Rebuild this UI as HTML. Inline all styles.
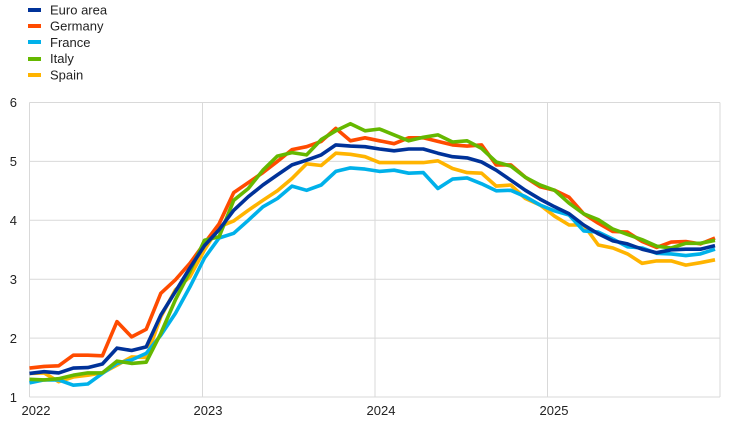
<!DOCTYPE html>
<html><head><meta charset="utf-8"><style>
body{margin:0;background:#fff;width:744px;height:422px;overflow:hidden}
svg{display:block;font-family:"Liberation Sans",sans-serif}
</style></head><body>
<svg width="744" height="422" viewBox="0 0 744 422" id="s">
<g stroke="#d9d9d9" stroke-width="1" fill="none">
<line x1="29.5" y1="102.5" x2="720" y2="102.5"/>
<line x1="29.5" y1="161.4" x2="720" y2="161.4"/>
<line x1="29.5" y1="220.3" x2="720" y2="220.3"/>
<line x1="29.5" y1="279.2" x2="720" y2="279.2"/>
<line x1="29.5" y1="338.1" x2="720" y2="338.1"/>
<line x1="29.5" y1="397" x2="720" y2="397"/>
<line x1="29.5" y1="102.5" x2="29.5" y2="397"/>
<line x1="202.5" y1="102.5" x2="202.5" y2="397"/>
<line x1="375" y1="102.5" x2="375" y2="397"/>
<line x1="547.5" y1="102.5" x2="547.5" y2="397"/>
<line x1="720" y1="102.5" x2="720" y2="397"/>
</g>
<g font-size="13" fill="#222" text-anchor="end">
<text x="17" y="107">6</text><text x="17" y="166">5</text><text x="17" y="225">4</text>
<text x="17" y="284">3</text><text x="17" y="343">2</text><text x="17" y="402">1</text>
</g>
<g font-size="13" fill="#222" text-anchor="middle">
<text x="36" y="415">2022</text><text x="208" y="415">2023</text><text x="381" y="415">2024</text><text x="554" y="415">2025</text>
</g>
<g font-size="13" fill="#222">
<rect x="28" y="8" width="13" height="4" fill="#003299"/><text x="50" y="14.5">Euro area</text>
<rect x="28" y="24" width="13" height="4" fill="#ff4b00"/><text x="50" y="30.5">Germany</text>
<rect x="28" y="40" width="13" height="4" fill="#00b1ea"/><text x="50" y="47">France</text>
<rect x="28" y="57" width="13" height="4" fill="#65b800"/><text x="50" y="63">Italy</text>
<rect x="28" y="73" width="13" height="4" fill="#ffb400"/><text x="50" y="79.5">Spain</text>
</g>
<g id="lines" fill="none" stroke-width="3.6" stroke-linejoin="round"></g>
</svg>
<script>
var D=[
["#ffb400",[1.40,1.41,1.26,1.34,1.37,1.41,1.54,1.68,1.67,2.36,2.82,3.04,3.50,3.89,3.99,4.17,4.34,4.50,4.71,4.96,4.93,5.14,5.12,5.08,4.98,4.98,4.98,4.98,5.01,4.88,4.81,4.80,4.58,4.60,4.37,4.26,4.07,3.92,3.92,3.58,3.53,3.43,3.27,3.31,3.31,3.24,3.28,3.33]],
["#00b1ea",[1.24,1.29,1.29,1.20,1.22,1.40,1.57,1.63,1.74,2.05,2.42,2.87,3.36,3.70,3.78,4.00,4.23,4.37,4.58,4.51,4.60,4.83,4.89,4.87,4.83,4.85,4.80,4.81,4.54,4.70,4.72,4.62,4.50,4.51,4.40,4.26,4.16,4.09,3.82,3.80,3.68,3.55,3.53,3.44,3.43,3.40,3.43,3.51]],
["#ff4b00",[1.49,1.52,1.53,1.71,1.71,1.70,2.28,2.02,2.15,2.76,2.99,3.27,3.61,3.94,4.47,4.64,4.81,5.00,5.20,5.25,5.34,5.56,5.35,5.40,5.35,5.30,5.40,5.40,5.34,5.28,5.26,5.28,4.94,4.94,4.73,4.57,4.51,4.39,4.11,3.95,3.81,3.80,3.64,3.54,3.63,3.64,3.60,3.70]],
["#65b800",[1.30,1.29,1.31,1.37,1.41,1.41,1.61,1.57,1.59,2.08,2.65,3.13,3.66,3.72,4.34,4.54,4.85,5.09,5.15,5.11,5.37,5.52,5.64,5.52,5.55,5.45,5.35,5.41,5.45,5.33,5.35,5.22,4.99,4.92,4.73,4.60,4.51,4.29,4.11,4.01,3.85,3.76,3.67,3.56,3.53,3.61,3.61,3.66]],
["#003299",[1.40,1.43,1.41,1.49,1.50,1.56,1.83,1.79,1.85,2.39,2.79,3.19,3.57,3.84,4.17,4.40,4.60,4.77,4.94,5.02,5.11,5.28,5.26,5.25,5.21,5.18,5.21,5.21,5.14,5.08,5.06,4.99,4.85,4.68,4.51,4.36,4.23,4.11,3.92,3.77,3.65,3.60,3.51,3.45,3.50,3.51,3.51,3.57]]];
var g=document.getElementById("lines"),ns="http://www.w3.org/2000/svg";
D.forEach(function(s){var p=document.createElementNS(ns,"polyline");
p.setAttribute("stroke",s[0]);
p.setAttribute("points",s[1].map(function(v,i){return (29.5+i*14.585).toFixed(1)+","+(397-(v-1)*58.9).toFixed(1)}).join(" "));
g.appendChild(p);});
</script>
</body></html>
